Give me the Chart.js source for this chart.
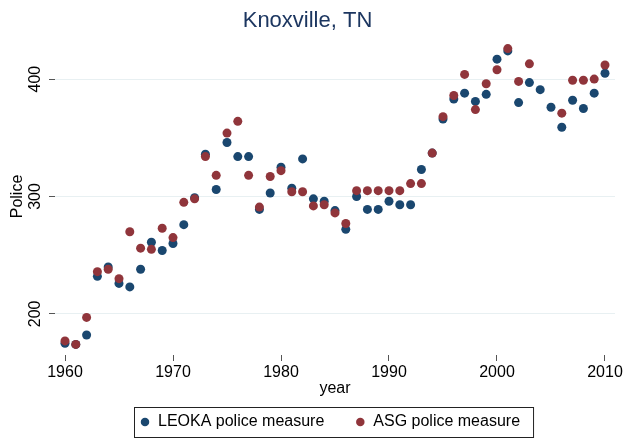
<!DOCTYPE html>
<html>
<head>
<meta charset="utf-8">
<script src="https://cdn.jsdelivr.net/npm/chart.js@4/dist/chart.umd.min.js"></script>
<style>
  html, body { margin: 0; padding: 0; background: #ffffff; }
  #wrap { width: 626px; height: 438px; }
</style>
</head>
<body>
<div id="wrap"><canvas id="c" width="626" height="438"></canvas></div>
<script>
// ---- data ----
const years = [1960,1961,1962,1963,1964,1965,1966,1967,1968,1969,
               1970,1971,1972,1973,1974,1975,1976,1977,1978,1979,
               1980,1981,1982,1983,1984,1985,1986,1987,1988,1989,
               1990,1991,1992,1993,1994,1995,1996,1997,1998,1999,
               2000,2001,2002,2003,2004,2005,2006,2007,2008,2009,2010];
const leoka = [175,174,182,232,240,226,223,238,261,254,
               260,276,299,336,306,346,334,334,289,303,
               325,307,332,298,296,288,272,300,289,289,
               296,293,293,323,337,366,383,388,381,387,
               417,424,380,397,391,376,359,382,375,388,405];
const asg   = [177,174,197,236,238,230,270,256,255,273,
               265,295,298,334,318,354,364,318,291,317,
               322,304,304,292,293,286,277,305,305,305,
               305,305,311,311,337,368,386,404,374,396,
               408,426,398,413,null,null,371,399,399,400,412];
const xTicks = [1960,1970,1980,1990,2000,2010];
const yTicks = [200,300,400];
const seriesNames = ['LEOKA police measure','ASG police measure'];

const BLUE = '#1a476f';
const RED = '#90353b';

function toPoints(vals) {
  const out = [];
  years.forEach((yr, i) => { if (vals[i] !== null) out.push({x: yr, y: vals[i]}); });
  return out;
}

Chart.defaults.font.family = "'Liberation Sans', Arial, Helvetica, sans-serif";
Chart.defaults.color = '#000';

const LEG_X = 140, LEG_Y = 414;
const legendPlacer = {
  id: 'legendPlacer',
  afterLayout(chart) {
    const lg = chart.legend;
    const pad = lg.options.labels.padding;
    lg.left = LEG_X - pad; lg.right = chart.width;
    lg.top = LEG_Y - pad; lg.bottom = chart.height;
    lg.width = lg.right - lg.left; lg.height = lg.bottom - lg.top;
  },
  afterDraw(chart) {
    const lg = chart.legend;
    const ctx = chart.ctx;
    const o = lg.options.labels;
    ctx.save();
    ctx.font = "16px 'Liberation Sans', Arial, sans-serif";
    let x = LEG_X;
    const n = lg.legendItems.length;
    lg.legendItems.forEach((it, i) => {
      x += o.boxWidth + 8 + ctx.measureText(it.text).width;
      if (i < n - 1) x += o.padding;
    });
    ctx.strokeStyle = '#222';
    ctx.lineWidth = 1;
    ctx.strokeRect(LEG_X - 6 + 0.5, LEG_Y - 7 + 0.5, (x + 13) - (LEG_X - 6), 30);
    ctx.restore();
  }
};

new Chart(document.getElementById('c'), {
  type: 'scatter',
  data: {
    datasets: [
      { label: seriesNames[0], data: toPoints(leoka), backgroundColor: BLUE, borderColor: BLUE,
        borderWidth: 0, pointRadius: 4.5, pointHoverRadius: 4.5, order: 1 },
      { label: seriesNames[1], data: toPoints(asg), backgroundColor: RED, borderColor: RED,
        borderWidth: 0, pointRadius: 4.5, pointHoverRadius: 4.5, order: 0 }
    ]
  },
  options: {
    responsive: false,
    animation: false,
    layout: { padding: { left: 0, right: 11, top: 0, bottom: 0 } },
    scales: {
      x: {
        type: 'linear', min: 1959.074, max: 2010.926,
        afterBuildTicks: s => { s.ticks = xTicks.map(v => ({ value: v })); },
        afterFit: s => { s.height = 43; },
        ticks: { callback: v => String(v), font: { size: 16 }, color: '#000', padding: 2, maxRotation: 0, autoSkip: false },
        grid: { drawOnChartArea: false, tickColor: '#555', tickLength: 6 },
        border: { display: false },
        title: { display: true, text: 'year', font: { size: 16 }, color: '#000', padding: { top: 0, bottom: 0 } }
      },
      y: {
        min: 165, max: 435,
        afterBuildTicks: s => { s.ticks = yTicks.map(v => ({ value: v })); },
        afterFit: s => { s.width = 55; },
        ticks: { minRotation: 90, maxRotation: 90, crossAlign: 'center', padding: 0, font: { size: 16 }, color: '#000' },
        grid: { color: '#e8f0f2', tickColor: '#555', tickLength: 6 },
        border: { display: false },
        title: { display: true, text: 'Police', font: { size: 16 }, color: '#000', padding: { top: 8, bottom: 0 } }
      }
    },
    plugins: {
      title: { display: true, text: 'Knoxville, TN', font: { size: 22, weight: 'normal' }, color: '#1c3660',
               padding: { top: 8, bottom: 3.6 } },
      legend: {
        display: true, position: 'bottom', align: 'start', maxHeight: 40,
        labels: { usePointStyle: true, pointStyle: 'circle', boxWidth: 10, boxHeight: 6, padding: 31,
                  font: { size: 16 }, color: '#000',
                  sort: (a, b) => a.datasetIndex - b.datasetIndex }
      },
      tooltip: { enabled: false }
    }
  },
  plugins: [legendPlacer]
});
</script>
</body>
</html>
